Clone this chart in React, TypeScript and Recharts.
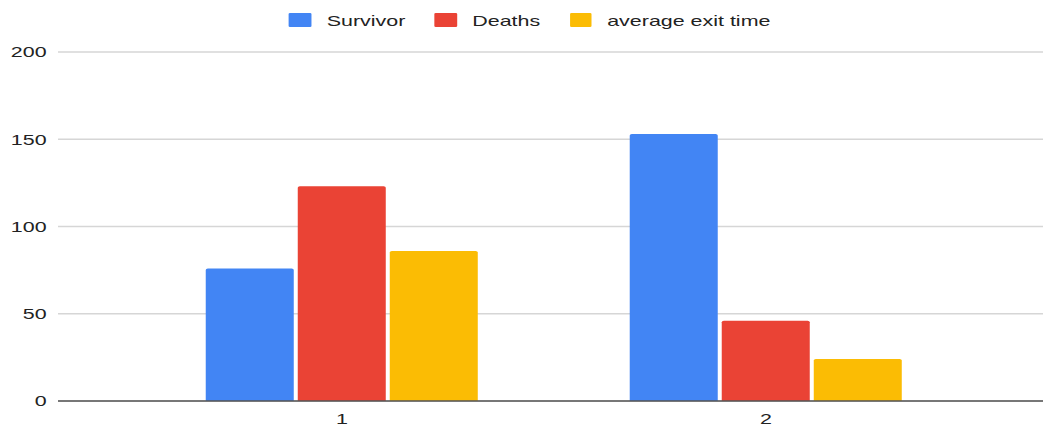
import React from "react";
import { Bar, BarChart, CartesianGrid, Legend, XAxis, YAxis } from "recharts";

const categories = ["1", "2"];
const survivor = [76, 153];
const deaths = [123, 46];
const averageExitTime = [86, 24];
const yTicks = [0, 50, 100, 150, 200];

const SERIES = [
  { key: "survivor", name: "Survivor", color: "#4285F4" },
  { key: "deaths", name: "Deaths", color: "#EA4335" },
  { key: "averageExitTime", name: "average exit time", color: "#FBBC04" },
];

const data = categories.map((c, i) => ({
  name: c,
  survivor: survivor[i],
  deaths: deaths[i],
  averageExitTime: averageExitTime[i],
}));

// chart is laid out narrow, then stretched sideways to fill the page
const STRETCH = 1043 / 730;
const FONT = "'Liberation Sans', Arial, sans-serif";

function LegendRow() {
  return (
    <div
      style={{
        display: "flex",
        justifyContent: "center",
        alignItems: "center",
        height: 40,
        paddingLeft: 11.5,
        fontFamily: FONT,
        fontSize: 15,
        color: "#222",
      }}
    >
      {SERIES.map((s, i) => (
        <div
          key={s.key}
          style={{
            display: "flex",
            alignItems: "center",
            marginRight: i < SERIES.length - 1 ? 20.5 : 0,
          }}
        >
          <div style={{ width: 15.9, height: 14.3, background: s.color, borderRadius: 1 }} />
          <span style={{ marginLeft: 10.5, lineHeight: "15px" }}>{s.name}</span>
        </div>
      ))}
    </div>
  );
}

export default function App() {
  return (
    <div
      style={{
        position: "absolute",
        left: 0,
        top: 0,
        width: 730,
        height: 426,
        transform: `scaleX(${STRETCH})`,
        transformOrigin: "left top",
      }}
    >
      <BarChart
        width={730}
        height={426}
        data={data}
        margin={{ top: 12, right: 0, bottom: 0, left: 0 }}
        barSize={61.6}
        barGap={2.8}
      >
        <Legend
          verticalAlign="top"
          content={() => <LegendRow />}
          wrapperStyle={{ top: 0, left: 0, width: "100%" }}
        />
        <CartesianGrid vertical={false} stroke="#d6d6d6" strokeWidth={1.3} />
        <XAxis
          dataKey="name"
          height={25}
          padding={{ left: 50.4, right: 45.5 }}
          tickLine={false}
          tickMargin={6}
          axisLine={{ stroke: "#555", strokeWidth: 1.3 }}
          tick={{ fill: "#222", fontSize: 15, fontFamily: FONT }}
        />
        <YAxis
          width={40.6}
          domain={[0, 200]}
          ticks={yTicks}
          axisLine={false}
          tickLine={false}
          tick={{ fill: "#222", fontSize: 15, fontFamily: FONT }}
        />
        {SERIES.map((s) => (
          <Bar
            key={s.key}
            dataKey={s.key}
            name={s.name}
            fill={s.color}
            radius={[1.5, 1.5, 0, 0]}
            isAnimationActive={false}
          />
        ))}
      </BarChart>
    </div>
  );
}
